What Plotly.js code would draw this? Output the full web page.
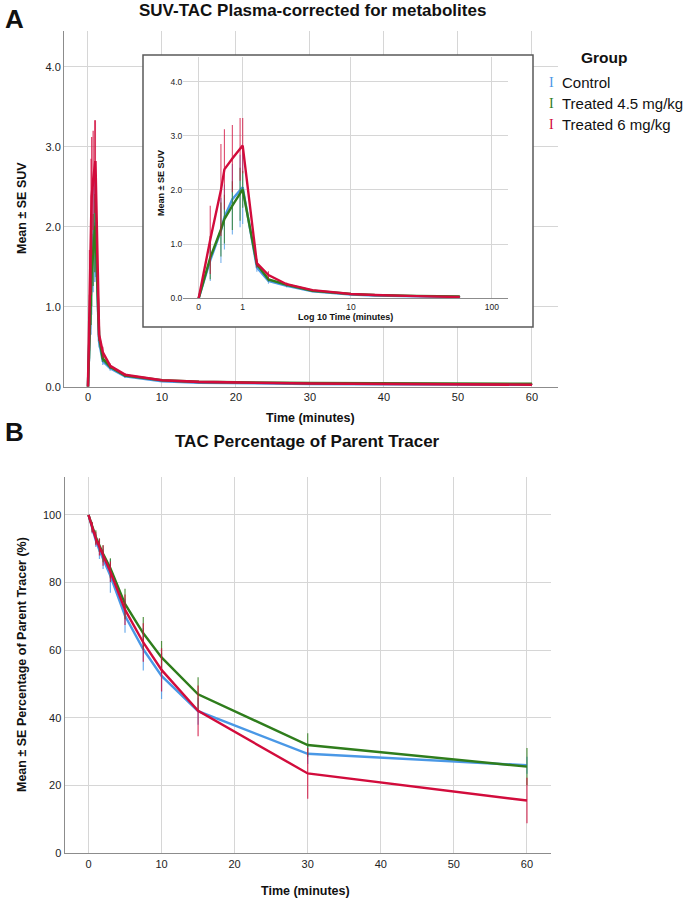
<!DOCTYPE html>
<html>
<head>
<meta charset="utf-8">
<script src="https://cdn.plot.ly/plotly-3.0.1.min.js"></script>
<style>html,body{margin:0;padding:0;background:#fff;}#chart{width:683px;height:899px;}</style>
</head>
<body>
<div id="chart"></div>
<script>
// ---------- Data ----------
const groups = ["Control", "Treated 4.5 mg/kg", "Treated 6 mg/kg"];
const groupColors = ["#4a98e6", "#2f7d1c", "#d20c3c"];

// Panel A: SUV time-activity curve (plasma, metabolite-corrected)
const suvTime = [0, 0.2, 0.42, 0.5, 0.7, 0.92, 1, 1.5, 2, 3, 5, 10, 15, 30, 60];
const suvControl   = [0, 0.70, 1.25, 1.50, 1.83, 1.98, 2.05, 0.57, 0.32, 0.23, 0.13, 0.07, 0.05, 0.035, 0.025];
const suvControlSE = [0, 0.38, 0.60, 0.60, 0.65, 0.67, 0.68, 0.08, 0.05, 0.03, 0.02, 0.01, 0.005, 0.005, 0.005];
const suvT45       = [0, 0.75, 1.27, 1.46, 1.71, 1.92, 2.01, 0.63, 0.35, 0.25, 0.14, 0.08, 0.06, 0.045, 0.035];
const suvT45SE     = [0, 0.40, 0.50, 0.45, 0.45, 0.49, 0.34, 0.06, 0.04, 0.03, 0.02, 0.01, 0.005, 0.005, 0.005];
const suvT6        = [0, 1.08, 2.00, 2.38, 2.58, 2.75, 2.82, 0.65, 0.43, 0.26, 0.15, 0.08, 0.06, 0.04, 0.025];
const suvT6SE      = [0, 0.63, 0.85, 0.74, 0.62, 0.58, 0.51, 0.08, 0.07, 0.03, 0.02, 0.01, 0.005, 0.005, 0.005];

// Panel B: percentage of parent tracer
const parTime = [0, 0.5, 1, 1.5, 2, 3, 5, 7.5, 10, 15, 30, 60];
const parControl   = [100, 96, 92.5, 89.5, 87, 82, 70.2, 60.3, 52.4, 42, 29.4, 26];
const parControlSE = [0, 1.5, 2, 2.5, 3, 5, 5, 6.3, 6.8, 4, 3, 2.5];
const parT45       = [100, 96.5, 93.5, 91, 88.5, 84.2, 73.7, 65, 57.9, 47, 32, 25.6];
const parT45SE     = [0, 1.5, 2, 2, 2.5, 3, 4.5, 4.8, 4.8, 5, 3.5, 5.5];
const parT6        = [100, 96.3, 93, 90.5, 88, 83.2, 72, 62.3, 54.2, 42.1, 23.6, 15.6];
const parT6SE      = [0, 1.5, 2, 2.5, 3, 3, 4.5, 5.7, 6.4, 7.5, 7.5, 6.7];

// Tick labels
const timeTicks = [0, 10, 20, 30, 40, 50, 60];
const suvTicks = [0, 1, 2, 3, 4];
const suvTickText = ["0.0", "1.0", "2.0", "3.0", "4.0"];
const logTickMinutes = [0, 1, 10, 100];
const pctTicks = [0, 20, 40, 60, 80, 100];

// ---------- Helpers ----------
const W = 683, H = 899;
const px = x => x / W;
const py = y => 1 - y / H;
const FONT = "Liberation Sans, Arial, sans-serif";
function rgba(hex, a) {
  const n = parseInt(hex.slice(1), 16);
  return `rgba(${(n >> 16) & 255},${(n >> 8) & 255},${n & 255},${a})`;
}
const log1p10 = t => Math.log10(t + 1);

const suvSeries = [[suvControl, suvControlSE], [suvT45, suvT45SE], [suvT6, suvT6SE]];
const parSeries = [[parControl, parControlSE], [parT45, parT45SE], [parT6, parT6SE]];

const traces = [];
// main panel A
suvSeries.forEach(([v, se], i) => {
  traces.push({
    x: suvTime, y: v, xaxis: "x", yaxis: "y", type: "scatter", mode: "lines",
    name: groups[i], showlegend: false, cliponaxis: false,
    line: { color: groupColors[i], width: 2.6 },
    error_y: { type: "data", array: se, visible: true, width: 0, thickness: 1.3, color: rgba(groupColors[i], 0.75) }
  });
});
// box placeholder subplot (white background for inset)
traces.push({ x: [], y: [], xaxis: "x2", yaxis: "y2", type: "scatter", mode: "lines", showlegend: false, hoverinfo: "skip" });
// inset (log10 time)
suvSeries.forEach(([v, se], i) => {
  traces.push({
    x: suvTime.map(log1p10), y: v, xaxis: "x3", yaxis: "y3", type: "scatter", mode: "lines",
    name: groups[i], showlegend: false, cliponaxis: false,
    line: { color: groupColors[i], width: 2.4 },
    error_y: { type: "data", array: se, visible: true, width: 0, thickness: 1.1, color: rgba(groupColors[i], 0.75) }
  });
});
// panel B
parSeries.forEach(([v, se], i) => {
  traces.push({
    x: parTime, y: v, xaxis: "x4", yaxis: "y4", type: "scatter", mode: "lines",
    name: groups[i], showlegend: false, cliponaxis: false,
    line: { color: groupColors[i], width: 2.4 },
    error_y: { type: "data", array: se, visible: true, width: 0, thickness: 1.2, color: rgba(groupColors[i], 0.8) }
  });
});

const GRID = "#d6d6d6";
const LINE = "#8c8c8c";
const baseAxis = {
  showgrid: true, gridcolor: GRID, gridwidth: 1, zeroline: false,
  showline: true, linecolor: LINE, linewidth: 1, ticks: "",
  tickfont: { family: FONT, size: 11, color: "#222" }, fixedrange: true
};

const layout = {
  width: W, height: H,
  margin: { l: 0, r: 0, t: 0, b: 0, pad: 0 },
  paper_bgcolor: "#fff", plot_bgcolor: "rgba(0,0,0,0)",
  showlegend: false,
  font: { family: FONT, color: "#111" },
  xaxis: Object.assign({}, baseAxis, {
    domain: [px(64), px(557.5)], range: [-3.24, 63.45], anchor: "y",
    tickvals: timeTicks
  }),
  yaxis: Object.assign({}, baseAxis, {
    domain: [py(386.7), py(30.7)], range: [0, 4.45], anchor: "x",
    tickvals: suvTicks, ticktext: suvTickText
  }),
  xaxis2: { domain: [px(143), px(533)], range: [0, 1], anchor: "y2", showgrid: false, zeroline: false, showline: false, showticklabels: false, ticks: "", fixedrange: true },
  yaxis2: { domain: [py(327), py(55)], range: [0, 1], anchor: "x2", showgrid: false, zeroline: false, showline: false, showticklabels: false, ticks: "", fixedrange: true },
  xaxis3: Object.assign({}, baseAxis, {
    domain: [px(183.3), px(507.7)], range: [-0.105, 2.113], anchor: "y3",
    tickvals: logTickMinutes.map(log1p10), ticktext: logTickMinutes.map(String),
    tickfont: { family: FONT, size: 8.5, color: "#222" }
  }),
  yaxis3: Object.assign({}, baseAxis, {
    domain: [py(298.3), py(56.7)], range: [0, 4.46], anchor: "x3",
    showline: false,
    tickvals: suvTicks, ticktext: suvTickText,
    tickfont: { family: FONT, size: 8.5, color: "#222" }
  }),
  xaxis4: Object.assign({}, baseAxis, {
    domain: [px(64.5), px(551)], range: [-3.28, 63.29], anchor: "y4",
    tickvals: timeTicks
  }),
  yaxis4: Object.assign({}, baseAxis, {
    domain: [py(853.3), py(477)], range: [0, 111.2], anchor: "x4",
    tickvals: pctTicks
  }),
  shapes: [
    { type: "rect", xref: "x2", yref: "y2", x0: 0, x1: 1, y0: 0, y1: 1, fillcolor: "#fff", line: { width: 0 }, layer: "below" },
    { type: "rect", xref: "paper", yref: "paper", x0: px(143), x1: px(533), y0: py(327), y1: py(55), fillcolor: "rgba(0,0,0,0)", line: { color: "#5a5a5a", width: 1.5 }, layer: "above" }
  ],
  annotations: []
};

function ann(text, x, y, opts) {
  layout.annotations.push(Object.assign({
    text: text, xref: "paper", yref: "paper", x: px(x), y: py(y),
    xanchor: "center", yanchor: "middle", showarrow: false,
    font: { family: FONT, size: 12.5, color: "#111", weight: "bold" }
  }, opts || {}));
}
const bold = (s) => ({ family: FONT, size: s, color: "#111", weight: "bold" });

ann("A", 3, 19, { xanchor: "left", font: bold(26) });
ann("SUV-TAC Plasma-corrected for metabolites", 312, 11, { font: bold(17) });
ann("Time (minutes)", 310, 418, { font: bold(12.5) });
ann("Mean ± SE SUV", 22, 208, { textangle: -90, font: bold(12.5) });
ann("Log 10 Time (minutes)", 345, 317, { font: bold(9) });
ann("Mean ± SE SUV", 161, 183, { textangle: -90, font: bold(9) });

ann("B", 3, 432, { xanchor: "left", font: bold(26) });
ann("TAC Percentage of Parent Tracer", 307, 441, { font: bold(17) });
ann("Time (minutes)", 305, 891, { font: bold(12.5) });
ann("Mean ± SE Percentage of Parent Tracer (%)", 22, 665, { textangle: -90, font: bold(12.5) });

// legend
ann("Group", 604, 57, { font: bold(15.5) });
groups.forEach((g, i) => {
  const yy = 83 + i * 21;
  ann("I", 551, yy, { font: { family: "Liberation Serif, DejaVu Serif, serif", size: 14, color: groupColors[i] } });
  ann(g, 560, yy, { xanchor: "left", font: { family: FONT, size: 15, color: "#111" } });
});

Plotly.newPlot("chart", traces, layout, { staticPlot: true, displayModeBar: false });
</script>
</body>
</html>
